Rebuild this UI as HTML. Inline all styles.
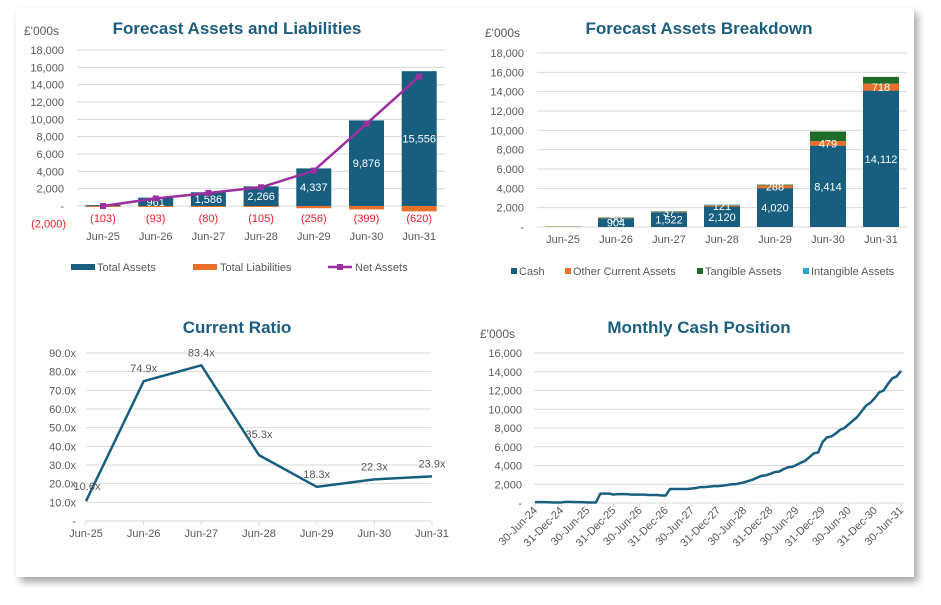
<!DOCTYPE html>
<html><head><meta charset="utf-8"><style>
html,body{margin:0;padding:0;background:#fff}
svg{display:block;font-family:"Liberation Sans",sans-serif}
</style></head><body>
<svg id="s" width="941" height="605" viewBox="0 0 941 605">
<defs><filter id="sh" x="-5%" y="-5%" width="112%" height="115%"><feDropShadow dx="4" dy="5" stdDeviation="4" flood-color="#000" flood-opacity="0.35"/></filter></defs>
<rect x="16" y="8" width="898" height="569" fill="#fff" filter="url(#sh)"/>
<g id="c1"></g><g id="c2"></g><g id="c3"></g><g id="c4"></g>
</svg>
<script>
// ---------- data ----------
const cats = ["Jun-25","Jun-26","Jun-27","Jun-28","Jun-29","Jun-30","Jun-31"];
const totalAssets = [100,961,1586,2266,4337,9876,15556];
const totalLiabilities = [103,93,80,105,256,399,620];
const netAssets = [0,868,1506,2161,4081,9477,14936];
const cashVals = [60,904,1522,2120,4020,8414,14112];
const otherCA = [30,50,37,121,288,479,718];
const tangible = [10,40,60,20,80,983,700];
const intangible = [0,0,0,60,0,0,0];
const ratioVals = [10.6,74.9,83.4,35.3,18.3,22.3,23.9];
const ratioTicks = ["-","10.0x","20.0x","30.0x","40.0x","50.0x","60.0x","70.0x","80.0x","90.0x"];
const monthlyCash = [100,100,100,80,60,60,60,120,120,100,100,80,60,60,60,
1000,1000,1000,900,950,950,950,900,900,900,900,850,850,850,800,
800,1500,1500,1500,1500,1500,1550,1600,
1700,1700,1750,1800,1800,1850,1900,2000,2000,2100,
2200,2350,2500,2700,2900,2950,3100,3300,3350,3600,
3800,3850,4050,4300,4500,4900,5300,5400,6500,7000,
7100,7400,7800,8000,8400,8800,9200,9800,10400,10700,
11200,11800,12000,12700,13300,13500,14100];
const monthLabels = ["30-Jun-24","31-Dec-24","30-Jun-25","31-Dec-25","30-Jun-26","31-Dec-26","30-Jun-27","31-Dec-27","30-Jun-28","31-Dec-28","30-Jun-29","31-Dec-29","30-Jun-30","31-Dec-30","30-Jun-31"];

const NS="http://www.w3.org/2000/svg";
const BLUE="#175e7f",ORANGE="#e8702a",PURPLE="#9b2fa0",GREEN="#1e6b2a",LBLUE="#2aa5d8",GRID="#d9d9d9",TXT="#595959",TITLE="#1b5e80";
function mk(parent,tag,attrs,text){const e=document.createElementNS(NS,tag);for(const k in attrs)e.setAttribute(k,attrs[k]);if(text!==undefined)e.textContent=text;parent.appendChild(e);return e;}
const fmt=v=>v.toLocaleString("en-GB");

// ---------- chart 1 ----------
(function(){
const g=document.getElementById('c1');
const y=v=>206-v*156/18000, x=i=>103+i*52.7;
let t=mk(g,'text',{x:237,y:34,'text-anchor':'middle','font-size':17,'font-weight':'bold',fill:TITLE},'Forecast Assets and Liabilities');

t=mk(g,'text',{x:24,y:35,'font-size':12,fill:TXT},"£'000s");

for(let v=-2000;v<=18000;v+=2000){
 if(v!==0&&v!==-2000){const l=mk(g,'line',{x1:77,x2:445,y1:y(v),y2:y(v),stroke:GRID,'stroke-width':1});}
 const lb=mk(g,'text',{x:v===-2000?66:64,y:y(v)+4,'text-anchor':'end','font-size':11,fill:v<0?'#e8202a':TXT},v===0?'-':v<0?'(2,000)':fmt(v));
 
}
const ax=mk(g,'line',{x1:77,x2:445,y1:206,y2:206,stroke:GRID});
cats.forEach((c,i)=>{
 const b=mk(g,'rect',{x:x(i)-17.5,y:y(totalAssets[i]),width:35,height:206-y(totalAssets[i]),fill:BLUE});
 
 const o=mk(g,'rect',{x:x(i)-17.5,y:206,width:35,height:Math.max(1,y(-totalLiabilities[i])-206),fill:ORANGE});
 
 if(i>0){const a=mk(g,'text',{x:x(i),y:(y(totalAssets[i])+206)/2+4,'text-anchor':'middle','font-size':11,fill:'#fff'},fmt(totalAssets[i]));}
 const r=mk(g,'text',{x:x(i),y:222,'text-anchor':'middle','font-size':11,fill:'#e8202a'},'('+totalLiabilities[i]+')');
 
 const xl=mk(g,'text',{x:x(i),y:240,'text-anchor':'middle','font-size':11,fill:TXT},c);
 
});
const pl=mk(g,'polyline',{points:netAssets.map((v,i)=>x(i)+','+y(v)).join(' '),fill:'none',stroke:PURPLE,'stroke-width':2.5});

netAssets.forEach((v,i)=>{const m=mk(g,'rect',{x:x(i)-3,y:y(v)-3,width:6,height:6,fill:PURPLE});});
let lg=mk(g,'rect',{x:71,y:264,width:24,height:6,fill:BLUE});
lg=mk(g,'text',{x:97,y:271,'font-size':11,fill:TXT},'Total Assets');
lg=mk(g,'rect',{x:193,y:264,width:24,height:6,fill:ORANGE});
lg=mk(g,'text',{x:220,y:271,'font-size':11,fill:TXT},'Total Liabilities');
lg=mk(g,'line',{x1:328,x2:352,y1:267,y2:267,stroke:PURPLE,'stroke-width':2.5});
lg=mk(g,'rect',{x:337,y:264,width:6,height:6,fill:PURPLE});
lg=mk(g,'text',{x:355,y:271,'font-size':11,fill:TXT},'Net Assets');
})();

// ---------- chart 2 ----------
(function(){
const g=document.getElementById('c2');
const y=v=>227-v*174/18000, x=i=>563+i*53;
let t=mk(g,'text',{x:699,y:34,'text-anchor':'middle','font-size':17,'font-weight':'bold',fill:TITLE},'Forecast Assets Breakdown');

t=mk(g,'text',{x:485,y:37,'font-size':12,fill:TXT},"£'000s");

for(let v=0;v<=18000;v+=2000){
 const l=mk(g,'line',{x1:537,x2:907,y1:y(v),y2:y(v),stroke:GRID});
 const lb=mk(g,'text',{x:524,y:y(v)+4,'text-anchor':'end','font-size':11,fill:TXT},v===0?'-':fmt(v));
}
const series=[[cashVals,BLUE,'bar-cash'],[otherCA,ORANGE,'bar-other-current-assets'],[tangible,GREEN,'bar-tangible-assets'],[intangible,LBLUE,'bar-intangible-assets']];
cats.forEach((c,i)=>{
 let base=0;
 series.forEach(([arr,col,nm])=>{
  const v=arr[i]; if(v<=0)return;
  const r=mk(g,'rect',{x:x(i)-18,y:y(base+v),width:36,height:y(base)-y(base+v),fill:i===0?'#b8b08a':col});
  
  base+=v;
 });
 if(i>0){
  const cl=mk(g,'text',{x:x(i),y:(y(cashVals[i])+227)/2+4,'text-anchor':'middle','font-size':11,fill:'#fff'},fmt(cashVals[i]));
  
  const oy=y(cashVals[i]+otherCA[i]/2)+4;
  const ol=mk(g,'text',{x:x(i),y:oy,'text-anchor':'middle','font-size':11,fill:'#fff'},fmt(otherCA[i]));
  
 }
 const xl=mk(g,'text',{x:x(i),y:243,'text-anchor':'middle','font-size':11,fill:TXT},c);
});
const leg=[[511,BLUE,'Cash','cash'],[565,ORANGE,'Other Current Assets','other-current-assets'],[697,GREEN,'Tangible Assets','tangible-assets'],[803,LBLUE,'Intangible Assets','intangible-assets']];
leg.forEach(([lx,col,lab,nm])=>{
 const s=mk(g,'rect',{x:lx,y:268,width:6,height:6,fill:col});
 const tx=mk(g,'text',{x:lx+8,y:275,'font-size':11,fill:TXT},lab);
});
})();

// ---------- chart 3 ----------
(function(){
const g=document.getElementById('c3');
const y=v=>521-v*168/90, x=i=>86+i*(346/6);
let t=mk(g,'text',{x:237,y:333,'text-anchor':'middle','font-size':17,'font-weight':'bold',fill:TITLE},'Current Ratio');

ratioTicks.forEach((lab,k)=>{
 const v=k*10;
 if(v>0){const l=mk(g,'line',{x1:86,x2:431,y1:y(v),y2:y(v),stroke:GRID});}
 const lb=mk(g,'text',{x:76,y:y(v)+4,'text-anchor':'end','font-size':11,fill:TXT},lab);
});
const ax=mk(g,'line',{x1:86,x2:431,y1:521,y2:521,stroke:GRID});
cats.forEach((c,i)=>{
 const tk=mk(g,'line',{x1:x(i),x2:x(i),y1:521,y2:525,stroke:GRID});
 const xl=mk(g,'text',{x:x(i),y:537,'text-anchor':'middle','font-size':11,fill:TXT},c);
});
const pl=mk(g,'polyline',{points:ratioVals.map((v,i)=>x(i)+','+y(v)).join(' '),fill:'none',stroke:BLUE,'stroke-width':2.5,'stroke-linejoin':'round'});

ratioVals.forEach((v,i)=>{
 const dx=i===0?1:i===3?0:0;
 const dy=i===0?-11:i===3?-17:-9;
 const lb=mk(g,'text',{x:x(i)+dx,y:y(v)+dy,'text-anchor':'middle','font-size':11,fill:TXT},v.toFixed(1)+'x');
 
});
})();

// ---------- chart 4 ----------
(function(){
const g=document.getElementById('c4');
const y=v=>503-v*150/16000, x=i=>535+i*(366/84);
let t=mk(g,'text',{x:699,y:333,'text-anchor':'middle','font-size':17,'font-weight':'bold',fill:TITLE},'Monthly Cash Position');

t=mk(g,'text',{x:480,y:338,'font-size':12,fill:TXT},"£'000s");

for(let v=0;v<=16000;v+=2000){
 const l=mk(g,'line',{x1:534,x2:904,y1:y(v),y2:y(v),stroke:GRID});
 const lb=mk(g,'text',{x:522,y:y(v)+4,'text-anchor':'end','font-size':11,fill:TXT},v===0?'-':fmt(v));
}
monthLabels.forEach((lab,k)=>{
 const xx=x(k*6);
 const tk=mk(g,'line',{x1:xx,x2:xx,y1:503,y2:507,stroke:GRID});
 const tl=mk(g,'text',{x:xx+3,y:511,'text-anchor':'end','font-size':11,fill:TXT,transform:`rotate(-45 ${xx+3} 511)`},lab);
 
});
const pl=mk(g,'polyline',{points:monthlyCash.map((v,i)=>x(i)+','+y(v)).join(' '),fill:'none',stroke:BLUE,'stroke-width':2.5,'stroke-linejoin':'round'});

})();
</script>
</body></html>
